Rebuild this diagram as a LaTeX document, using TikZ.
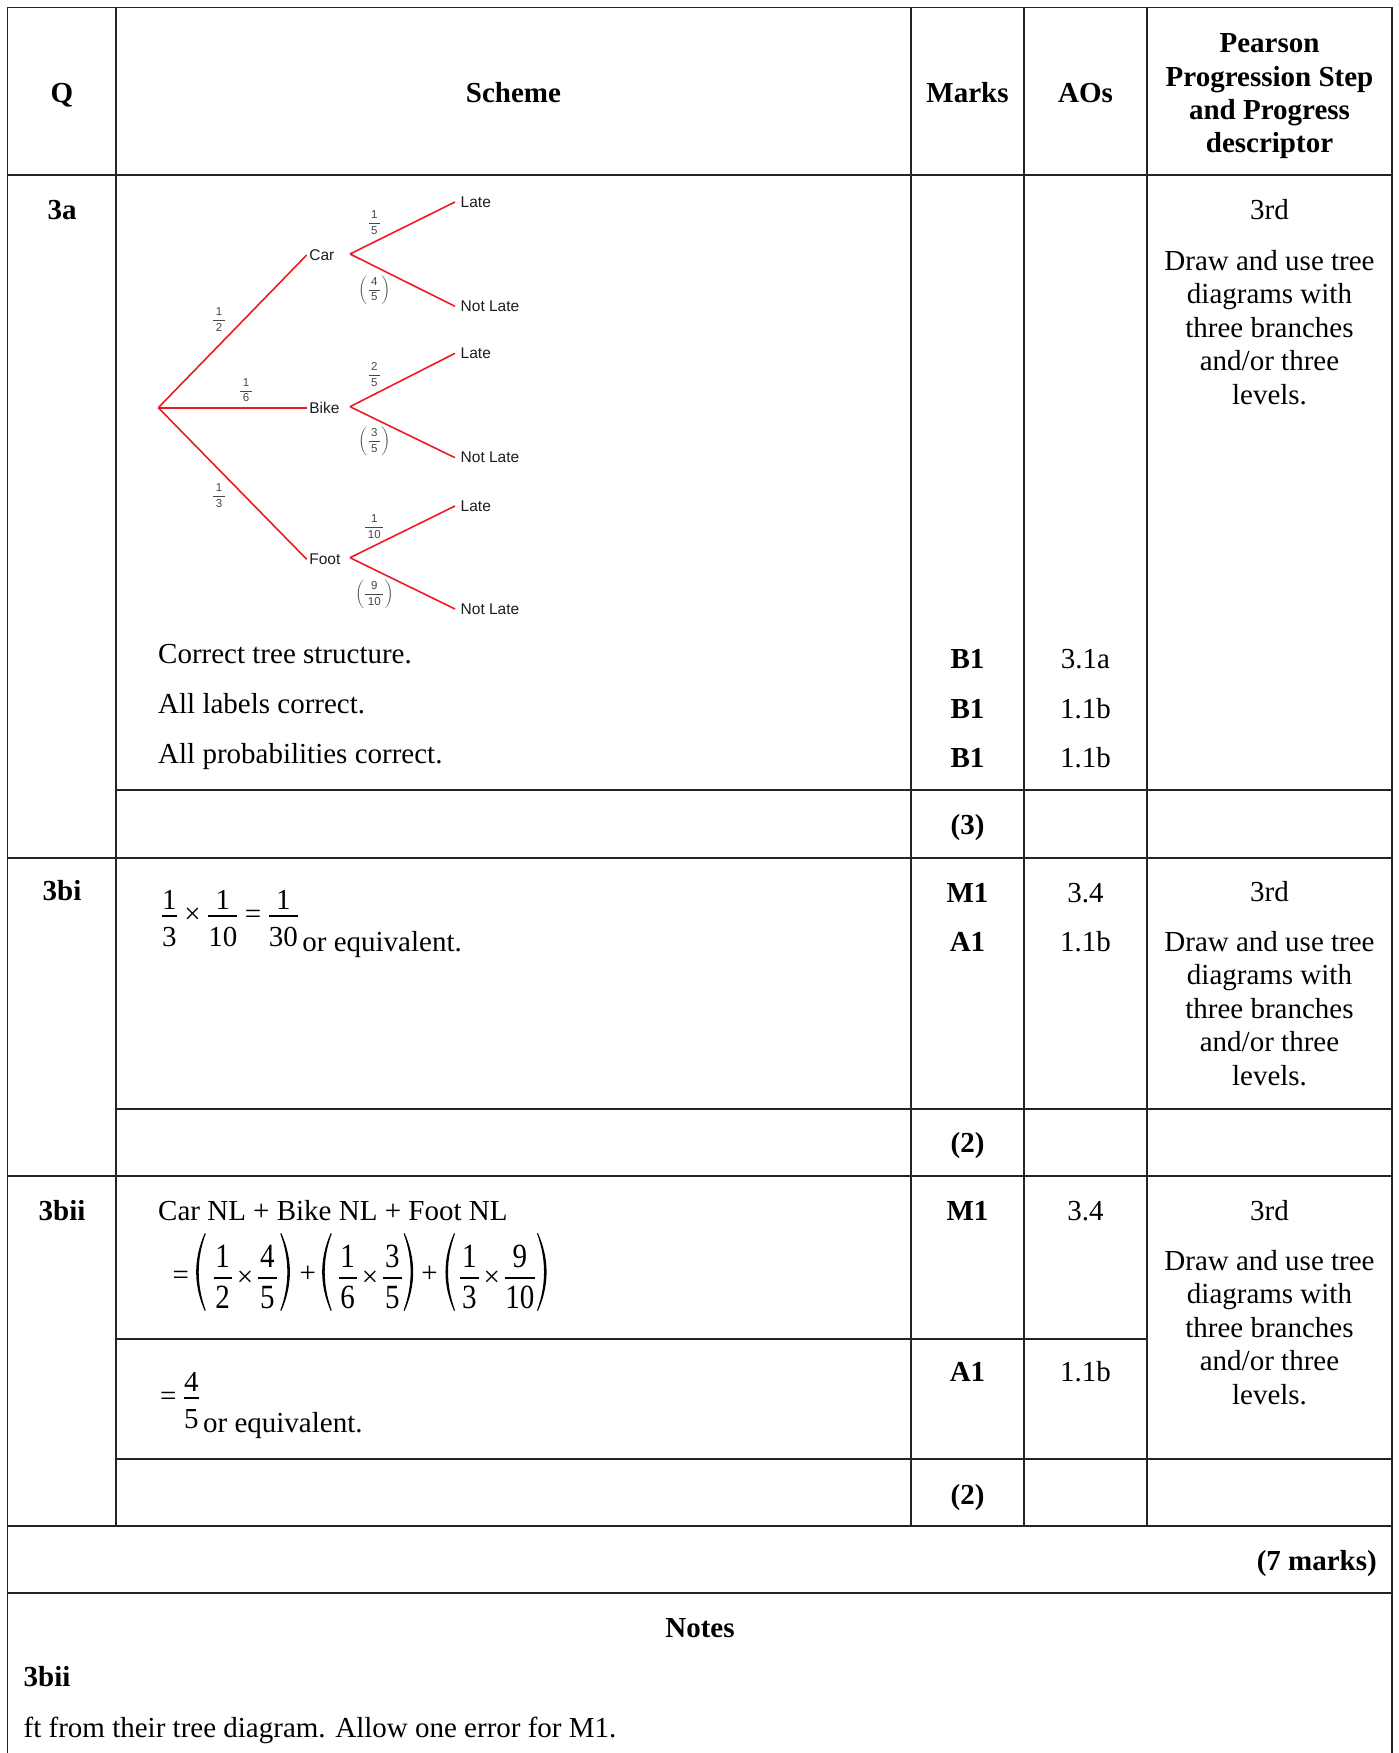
\documentclass[tikz,border=0pt]{standalone}
\usepackage{fix-cm}
\usepackage{amsmath}
\usepackage{graphicx}
\usepackage{fontspec}
\setmainfont{Liberation Serif}
\newfontfamily\treefont{Liberation Sans}
\definecolor{treered}{RGB}{237,28,36}
\definecolor{gridcol}{RGB}{35,35,40}
\definecolor{fracgray}{RGB}{70,70,70}
\definecolor{labelcol}{RGB}{30,30,30}
% small tree fractions
\newcommand\pd[1]{\mbox{\hspace{2.6pt}#1\hspace{2.6pt}}}
\newcommand\sfr[2]{$\dfrac{\pd{#1}}{\pd{#2}}$}
\newcommand\psfr[2]{$\left(\vrule height 15pt depth 10pt width 0pt\dfrac{\pd{#1}}{\pd{#2}}\right)$}
% scheme fractions (Times-like digits)
\newcommand\fr[2]{\genfrac{}{}{1.6pt}{1}{\mbox{\raisebox{2pt}{#1}}}{\mbox{\rule{0pt}{28.5pt}#2}}}
% taller fractions of the second equation
\newcommand\frB[3]{\genfrac{}{}{1.6pt}{1}{\mbox{\raisebox{6pt}{\makebox[#1]{\scalebox{1}[1.17]{#2}}}}}{\mbox{\rule{0pt}{28.5pt}\makebox[#1]{\scalebox{1}[1.17]{#3}}}}}
\newcommand\xtimes{\mbox{\hspace{5pt}\raisebox{-1.5pt}{×}\hspace{5pt}}}
\newcommand\nomuskip{\thinmuskip=0mu\medmuskip=0mu\thickmuskip=0mu\nulldelimiterspace=0pt}
\newcommand\bop[1]{\mathbin{\mbox{#1}}}
\newcommand\brel[1]{\mathrel{\mbox{#1}}}
\newcommand\tightmath{\medmuskip=3.5mu\thickmuskip=3.5mu\nulldelimiterspace=2pt}
\newcommand\descblock{\begin{tabular}[t]{@{}c@{}}Draw and use tree\\diagrams with\\three branches\\and/or three\\levels.\end{tabular}}
\tikzset{
  grid/.style={line width=1.8pt, draw=gridcol, line cap=rect},
  branch/.style={line width=1.6pt, draw=treered},
  body/.style={font=\fontsize{29}{33.5}\selectfont, inner sep=0pt, text=black},
  bodyb/.style={font=\fontsize{29}{33.5}\selectfont\bfseries, inner sep=0pt, text=black},
  lab/.style={font=\treefont\fontsize{15.5}{18}\selectfont, inner xsep=2.5pt, inner ysep=0pt, text=labelcol},
  leaf/.style={font=\treefont\fontsize{15.5}{18}\selectfont, inner xsep=5.5pt, inner ysep=0pt, text=labelcol},
  pfrac/.style={font=\treefont\fontsize{11.5}{13}\selectfont, inner sep=0pt, text=fracgray},
  lparen/.pic={\fill[black] (0,-45) .. controls (-11.5,-19) and (-11.5,7) .. (0,33)
      -- (0.9,32.3) .. controls (-8.4,7) and (-8.4,-19) .. (0.9,-44.3) -- cycle;},
  rparen/.pic={\fill[black] (0,-45) .. controls (11.5,-19) and (11.5,7) .. (0,33)
      -- (-0.9,32.3) .. controls (8.4,7) and (8.4,-19) .. (-0.9,-44.3) -- cycle;},
}
\begin{document}
\begin{tikzpicture}[x=1pt,y=-1pt]
\useasboundingbox (0,0) rectangle (1399,1753);
\fill[white] (0,0) rectangle (1399,1753);

% ---------- grid ----------
\draw[grid] (7.5,1753) -- (7.5,7.5) -- (1392,7.5) -- (1392,1753);
\foreach \xx in {116,911,1024,1147} \draw[grid] (\xx,7.5) -- (\xx,1526);
\draw[grid] (7.5,175) -- (1392,175);
\draw[grid] (116,790) -- (1392,790);
\draw[grid] (7.5,858) -- (1392,858);
\draw[grid] (116,1109) -- (1392,1109);
\draw[grid] (7.5,1176) -- (1392,1176);
\draw[grid] (116,1339) -- (1147,1339);
\draw[grid] (116,1459) -- (1392,1459);
\draw[grid] (7.5,1526) -- (1392,1526);
\draw[grid] (7.5,1593) -- (1392,1593);

% ---------- header ----------
\node[bodyb, anchor=base] (hQ) at (62,102) {Q};
\node[bodyb, anchor=base] (hScheme) at (513.5,102) {Scheme};
\node[bodyb, anchor=base] (hMarks) at (967.5,102) {Marks};
\node[bodyb, anchor=base] (hAOs) at (1085.5,102) {AOs};
\node[bodyb, anchor=base] (hDesc) at (1269.5,52.5)
  {\begin{tabular}[t]{@{}c@{}}Pearson\\Progression Step\\and Progress\\descriptor\end{tabular}};

% ---------- 3a ----------
\node[bodyb, anchor=base] (q3a) at (62,219) {3a};

% tree
\coordinate (root) at (158.3,407.7);
\node[lab, anchor=west] (car) at (306.7,255) {Car};
\node[lab, anchor=west] (bike) at (306.7,407.7) {Bike};
\node[lab, anchor=west] (foot) at (306.7,559.3) {Foot};
\coordinate (carJ) at (350,254);
\coordinate (bikeJ) at (350,406.7);
\coordinate (footJ) at (350,557.7);
\node[leaf, anchor=west] (carL) at (455,202) {Late};
\node[leaf, anchor=west] (carN) at (455,306.3) {Not Late};
\node[leaf, anchor=west] (bikeL) at (455,353.3) {Late};
\node[leaf, anchor=west] (bikeN) at (455,457.7) {Not Late};
\node[leaf, anchor=west] (footL) at (455,506) {Late};
\node[leaf, anchor=west] (footN) at (455,609) {Not Late};
\draw[branch] (root) -- (car.west);
\draw[branch] (root) -- (bike.west);
\draw[branch] (root) -- (foot.west);
\draw[branch] (carJ) -- (carL.west);
\draw[branch] (carJ) -- (carN.west);
\draw[branch] (bikeJ) -- (bikeL.west);
\draw[branch] (bikeJ) -- (bikeN.west);
\draw[branch] (footJ) -- (footL.west);
\draw[branch] (footJ) -- (footN.west);
\node[pfrac] (p12) at (219,319.3) {\sfr{1}{2}};
\node[pfrac] (p16) at (246,390) {\sfr{1}{6}};
\node[pfrac] (p13) at (219,495.7) {\sfr{1}{3}};
\node[pfrac] (p15) at (374.3,222.3) {\sfr{1}{5}};
\node[pfrac] (p45) at (374.3,290) {\psfr{4}{5}};
\node[pfrac] (p25) at (374.3,374.3) {\sfr{2}{5}};
\node[pfrac] (p35) at (374.3,441.7) {\psfr{3}{5}};
\node[pfrac] (p110) at (374.3,526.7) {\sfr{1}{10}};
\node[pfrac] (p910) at (374.3,594.3) {\psfr{9}{10}};

\node[body, anchor=base west] (s1) at (158,663.3) {Correct tree structure.};
\node[body, anchor=base west] (s2) at (158,713.3) {All labels correct.};
\node[body, anchor=base west] (s3) at (158,763.3) {All probabilities correct.};
\node[bodyb, anchor=base] (m1) at (967.5,668) {B1};
\node[bodyb, anchor=base] (m2) at (967.5,718) {B1};
\node[bodyb, anchor=base] (m3) at (967.5,767) {B1};
\node[body, anchor=base] (a1) at (1085.5,668) {3.1a};
\node[body, anchor=base] (a2) at (1085.5,718) {1.1b};
\node[body, anchor=base] (a3) at (1085.5,767) {1.1b};
\node[body, anchor=base] (d3a) at (1269.5,219) {3rd};
\node[body, anchor=base] (d3ab) at (1269.5,270) {\descblock};
\node[bodyb, anchor=base] (t3a) at (967.5,834) {(3)};

% ---------- 3bi ----------
\node[bodyb, anchor=base] (q3bi) at (62,900) {3bi};
\node[body, anchor=base west] (f1) at (160,923.3)
  {$\tightmath\fr{1}{3}\bop{×}\fr{1}{10}\brel{=}\fr{1}{30}$};
\coordinate (oe1y) at (0,951.5);
\node[body, anchor=base west] (oe1) at ([xshift=2pt]f1.east |- oe1y) {or equivalent.};
\node[bodyb, anchor=base] (mbi1) at (967.5,902) {M1};
\node[bodyb, anchor=base] (mbi2) at (967.5,951) {A1};
\node[body, anchor=base] (abi1) at (1085.5,902) {3.4};
\node[body, anchor=base] (abi2) at (1085.5,951) {1.1b};
\node[body, anchor=base] (d3bi) at (1269.5,901) {3rd};
\node[body, anchor=base] (d3bib) at (1269.5,951) {\descblock};
\node[bodyb, anchor=base] (t3bi) at (967.5,1152) {(2)};

% ---------- 3bii ----------
\node[bodyb, anchor=base] (q3bii) at (62,1220) {3bii};
\node[body, anchor=base west] (cnl) at (158,1220) {Car NL + Bike NL + Foot NL};
\coordinate (bar2) at (0,1278);
\node[body, anchor=base west] (eq2) at (172.3,1284.7) {=};
\node[body, anchor=base west] (g1) at (213.3,1285.25)
  {$\nomuskip\frB{18.4pt}{1}{2}\xtimes\frB{18.4pt}{4}{5}$};
\node[body, anchor=base west] (pl1) at (299.5,1282.5) {+};
\node[body, anchor=base west] (g2) at (338.3,1285.25)
  {$\nomuskip\frB{18.4pt}{1}{6}\xtimes\frB{18.4pt}{3}{5}$};
\node[body, anchor=base west] (pl2) at (421.2,1282.5) {+};
\node[body, anchor=base west] (g3) at (460,1285.25)
  {$\nomuskip\frB{18.4pt}{1}{3}\xtimes\frB{30pt}{9}{10}$};
\pic at ([xshift=-8.5pt]g1.west |- bar2) {lparen};
\pic at ([xshift=4.4pt]g1.east |- bar2) {rparen};
\pic at ([xshift=-7.5pt]g2.west |- bar2) {lparen};
\pic at ([xshift=2.7pt]g2.east |- bar2) {rparen};
\pic at ([xshift=-5.9pt]g3.west |- bar2) {lparen};
\pic at ([xshift=2.8pt]g3.east |- bar2) {rparen};

\node[body, anchor=base west] (f3) at (160,1405.3) {$\tightmath\brel{=}\fr{4}{5}$};
\coordinate (oe2y) at (0,1432);
\node[body, anchor=base west] (oe2) at ([xshift=2pt]f3.east |- oe2y) {or equivalent.};
\node[bodyb, anchor=base] (mbii1) at (967.5,1220) {M1};
\node[bodyb, anchor=base] (mbii2) at (967.5,1381.7) {A1};
\node[body, anchor=base] (abii1) at (1085.5,1220) {3.4};
\node[body, anchor=base] (abii2) at (1085.5,1381.7) {1.1b};
\node[body, anchor=base] (d3bii) at (1269.5,1220) {3rd};
\node[body, anchor=base] (d3biib) at (1269.5,1270) {\descblock};
\node[bodyb, anchor=base] (t3bii) at (967.5,1504) {(2)};

% ---------- totals and notes ----------
\node[bodyb, anchor=base east] (total) at (1377,1570) {(7 marks)};
\node[bodyb, anchor=base] (notes) at (700,1637) {Notes};
\node[bodyb, anchor=base west] (n3bii) at (23.5,1686) {3bii};
\node[body, anchor=base west] (ntext) at (23.5,1737) {ft from their tree diagram. Allow one error for M1.};
\end{tikzpicture}
\end{document}
